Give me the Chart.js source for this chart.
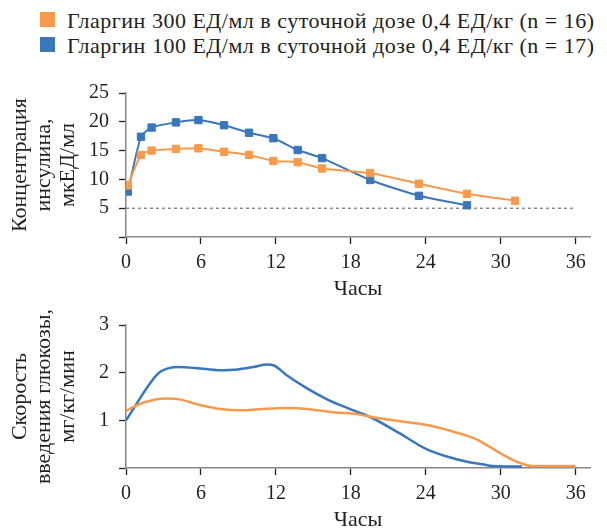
<!DOCTYPE html>
<html lang="ru">
<head>
<meta charset="utf-8">
<title>Гларгин 300 и 100 ЕД/мл</title>
<script src="https://cdn.jsdelivr.net/npm/chart.js@4.4.1/dist/chart.umd.min.js"></script>
<style>
  body { margin: 0; background: #fff; }
  #wrap { position: relative; width: 607px; height: 531px; font-family: "Liberation Serif", "Times New Roman", "DejaVu Serif", serif; color: #231f20; }
  canvas { position: absolute; left: 0; }
  #insulinChart { top: 0; }
  #glucoseChart { top: 303px; }
  .leg { position: absolute; left: 40px; font-size: 22px; letter-spacing: 0.5px; line-height: 25px; white-space: nowrap; padding-left: 27px; }
  .leg i { position: absolute; left: 0; top: 4px; width: 15px; height: 15px; }
</style>
</head>
<body>
<div id="wrap">
  <div class="leg" id="leg0" style="top:8px"><i></i><span></span></div>
  <div class="leg" id="leg1" style="top:33px"><i></i><span></span></div>
  <canvas id="insulinChart" width="607" height="303"></canvas>
  <canvas id="glucoseChart" width="607" height="228"></canvas>
</div>
<script>
const seriesNames = [
    'Гларгин 300 ЕД/мл в суточной дозе 0,4 ЕД/кг (n = 16)',
    'Гларгин 100 ЕД/мл в суточной дозе 0,4 ЕД/кг (n = 17)'
];
const seriesColors = ['#f79a4e', '#3a76bb'];
const hourTicks = [0, 6, 12, 18, 24, 30, 36];

// insulin concentration, mcU/ml
const insulinHours300 = [0.15, 1.2, 2.05, 4.0, 5.8, 7.85, 9.85, 11.8, 13.75, 15.7, 19.55, 23.45, 27.3, 31.15];
const insulin300      = [8.95, 14.25, 15.0, 15.3, 15.4, 14.8, 14.25, 13.2, 13.0, 11.9, 11.1, 9.25, 7.5, 6.3];
const insulinHours100 = [0.15, 1.2, 2.05, 4.0, 5.8, 7.85, 9.85, 11.8, 13.75, 15.7, 19.55, 23.45, 27.3];
const insulin100      = [7.9, 17.4, 19.0, 19.9, 20.3, 19.4, 18.1, 17.15, 15.1, 13.7, 9.9, 7.15, 5.5];
const thresholdLevel = 5;

// glucose infusion rate, mg/kg/min
const glucoseHours300 = [0, 1.36, 3.24, 4.3, 5.9, 7.5, 9.4, 11.0, 12.9, 14.5, 16.6, 18.74, 19.55, 21.95, 24.1, 25.96, 27.8, 28.9, 29.97, 31.3, 32.6, 36];
const glucose300      = [1.2, 1.37, 1.46, 1.44, 1.32, 1.24, 1.21, 1.24, 1.26, 1.24, 1.17, 1.12, 1.075, 0.98, 0.9, 0.78, 0.63, 0.48, 0.31, 0.13, 0.04, 0.04];
const glucoseHours100 = [0, 2.6, 3.5, 4.2, 6.2, 7.8, 8.7, 10.2, 11.3, 11.85, 12.9, 14.5, 16.1, 17.7, 19.55, 21.95, 24.1, 25.7, 27.3, 28.4, 29.4, 31.7];
const glucose100      = [1.0, 1.99, 2.10, 2.12, 2.08, 2.05, 2.06, 2.12, 2.17, 2.15, 1.94, 1.67, 1.44, 1.26, 1.07, 0.72, 0.39, 0.24, 0.13, 0.085, 0.04, 0.03];

const FONT = '"Liberation Serif", "Times New Roman", "DejaVu Serif", serif';
const TEXT = '#231f20';

seriesNames.forEach((name, i) => {
    const el = document.getElementById('leg' + i);
    el.querySelector('i').style.background = seriesColors[i];
    el.querySelector('span').textContent = name;
});

function toPoints(xs, ys) {
    return xs.map((x, i) => ({ x: x, y: ys[i] }));
}

function xScale(height, titlePad) {
    return {
        type: 'linear',
        min: 0,
        max: 37.15,
        afterBuildTicks: s => { s.ticks = hourTicks.map(v => ({ value: v })); },
        afterFit: s => { s.height = height; },
        ticks: { color: TEXT, font: { family: FONT, size: 20 }, padding: 7, autoSkip: false, maxRotation: 0 },
        grid: { drawOnChartArea: false, tickLength: 7, tickColor: TEXT, tickWidth: 1.3 },
        border: { color: '#888', width: 1.5 },
        title: { display: true, text: 'Часы', color: TEXT, font: { family: FONT, size: 22, lineHeight: 1 }, padding: { top: 0, bottom: titlePad } }
    };
}

function yScale(max, step, title) {
    return {
        min: 0,
        max: max,
        afterFit: s => { s.width = 126; },
        ticks: { stepSize: step, color: TEXT, font: { family: FONT, size: 20 }, padding: 10,
                 callback: v => (v === 0 ? '' : v) },
        grid: { drawOnChartArea: false, tickLength: 7, tickColor: TEXT, tickWidth: 1.3 },
        border: { color: '#888', width: 1.5 },
        title: { display: true, text: title, color: TEXT, font: { family: FONT, size: 22, lineHeight: 1.1 }, padding: { top: 8, bottom: 0 } }
    };
}

const common = {
    responsive: false,
    animation: false,
    plugins: { legend: { display: false }, tooltip: { enabled: false } }
};

new Chart(document.getElementById('insulinChart'), {
    type: 'line',
    data: {
        datasets: [
            { data: toPoints(insulinHours300, insulin300), borderColor: seriesColors[0], backgroundColor: seriesColors[0],
              borderWidth: 2, tension: 0.2, pointStyle: 'rect', pointRadius: 5.2, pointBorderWidth: 1 },
            { data: toPoints(insulinHours100, insulin100), borderColor: seriesColors[1], backgroundColor: seriesColors[1],
              borderWidth: 2, tension: 0.2, pointStyle: 'rect', pointRadius: 5.2, pointBorderWidth: 1 },
            { data: toPoints([0, 36], [thresholdLevel, thresholdLevel]), borderColor: '#555', borderWidth: 1,
              borderDash: [3, 3], pointRadius: 0 }
        ]
    },
    options: {
        ...common,
        layout: { padding: { top: 93, right: 17, bottom: 0, left: 0 } },
        scales: {
            x: xScale(66, 3),
            y: yScale(25, 5, ['Концентрация', 'инсулина,', 'мкЕД/мл'])
        }
    }
});

new Chart(document.getElementById('glucoseChart'), {
    type: 'line',
    data: {
        datasets: [
            { data: toPoints(glucoseHours300, glucose300), borderColor: seriesColors[0], borderWidth: 2.5,
              cubicInterpolationMode: 'monotone', pointRadius: 0 },
            { data: toPoints(glucoseHours100, glucose100), borderColor: seriesColors[1], borderWidth: 2.5,
              cubicInterpolationMode: 'monotone', pointRadius: 0 }
        ]
    },
    options: {
        ...common,
        layout: { padding: { top: 21, right: 17, bottom: 0, left: 0 } },
        scales: {
            x: xScale(63, 0),
            y: yScale(3, 1, ['Скорость', 'введения глюкозы,', 'мг/кг/мин'])
        }
    }
});
</script>
</body>
</html>
